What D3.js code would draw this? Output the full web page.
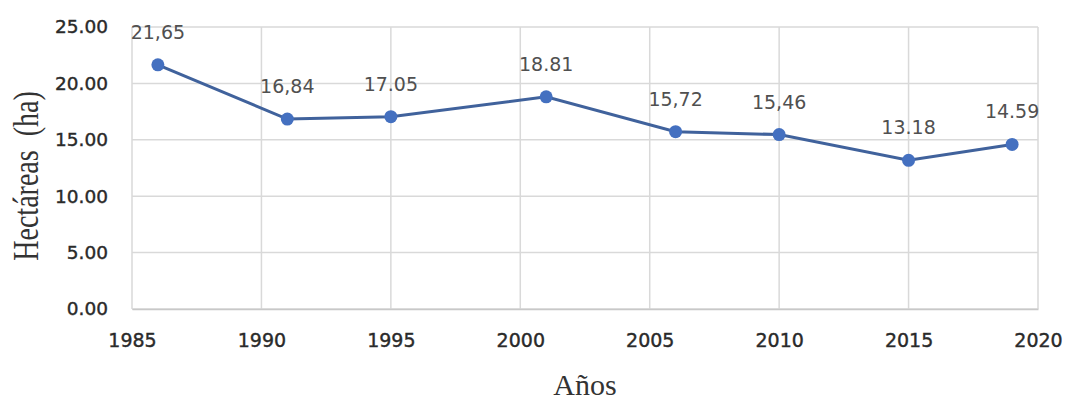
<!DOCTYPE html>
<html><head><meta charset="utf-8">
<script src="https://cdn.jsdelivr.net/npm/d3@7"></script>
<style>body{margin:0;background:#fff}svg{display:block}</style>
</head><body>
<script>
const years = [1986, 1991, 1995, 2001, 2006, 2010, 2015, 2019];
const values = [21.65, 16.84, 17.05, 18.81, 15.72, 15.46, 13.18, 14.59];
const labels = ["21,65", "16,84", "17.05", "18.81", "15,72", "15,46", "13.18", "14.59"];
const xTicks = [1985, 1990, 1995, 2000, 2005, 2010, 2015, 2020];
const yTicks = [0, 5, 10, 15, 20, 25];

const W = 1067, H = 401;
const m = {left: 132, right: 1038, top: 27, bottom: 309};
const svg = d3.select("body").append("svg").attr("width", W).attr("height", H);
const x = d3.scaleLinear().domain([1985, 2020]).range([m.left, m.right]);
const y = d3.scaleLinear().domain([0, 25]).range([m.bottom, m.top]);

// grid
svg.append("g").selectAll("line").data(yTicks).join("line")
  .attr("x1", m.left).attr("x2", m.right).attr("y1", d => y(d)).attr("y2", d => y(d))
  .attr("stroke", "#d9d9d9").attr("stroke-width", 1.5);
svg.append("g").selectAll("line").data(xTicks).join("line")
  .attr("y1", m.top).attr("y2", m.bottom).attr("x1", d => x(d)).attr("x2", d => x(d))
  .attr("stroke", "#d9d9d9").attr("stroke-width", 1.5);

// axes
const yAxis = svg.append("g").attr("transform", `translate(${m.left},0)`)
  .call(d3.axisLeft(y).tickValues(yTicks).tickFormat(d3.format(".2f")).tickSize(0).tickPadding(24));
yAxis.select(".domain").remove();
yAxis.selectAll("text").attr("font-family", "DejaVu Sans, sans-serif").attr("font-size", 18.5)
  .attr("fill", "#2a2a2a").attr("stroke", "#2a2a2a").attr("stroke-width", 0.4);
const xAxis = svg.append("g").attr("transform", `translate(0,${m.bottom})`)
  .call(d3.axisBottom(x).tickValues(xTicks).tickFormat(d3.format("d")).tickSize(0).tickPadding(25));
xAxis.select(".domain").attr("stroke", "#c8c8c8").attr("stroke-width", 1.5);
xAxis.selectAll("text").attr("font-family", "DejaVu Sans, sans-serif").attr("font-size", 19)
  .attr("fill", "#2a2a2a").attr("stroke", "#2a2a2a").attr("stroke-width", 0.4);

// line
const line = d3.line().x((d, i) => x(years[i])).y(d => y(d));
svg.append("path").datum(values).attr("d", line).attr("fill", "none")
  .attr("stroke", "#40629c").attr("stroke-width", 3);
svg.append("g").selectAll("circle").data(values).join("circle")
  .attr("cx", (d, i) => x(years[i])).attr("cy", d => y(d)).attr("r", 6.5).attr("fill", "#4470c0");

// data labels
svg.append("g").selectAll("text").data(values).join("text")
  .attr("x", (d, i) => x(years[i])).attr("y", d => y(d) - 26)
  .attr("text-anchor", "middle").attr("font-family", "DejaVu Sans, sans-serif").attr("font-size", 19)
  .attr("fill", "#505050").text((d, i) => labels[i]);

// axis titles
svg.append("text").attr("transform", "translate(38,176) rotate(-90) scale(1,1.3)").attr("text-anchor", "middle")
  .attr("font-family", "Liberation Serif, serif").attr("font-size", 28).attr("fill", "#333")
  .style("white-space", "pre").text("Hectáreas  (ha)");
svg.append("text").attr("x", (m.left + m.right) / 2).attr("y", 395).attr("text-anchor", "middle")
  .attr("font-family", "Liberation Serif, serif").attr("font-size", 30).attr("fill", "#333")
  .text("Años");
</script>
</body></html>
